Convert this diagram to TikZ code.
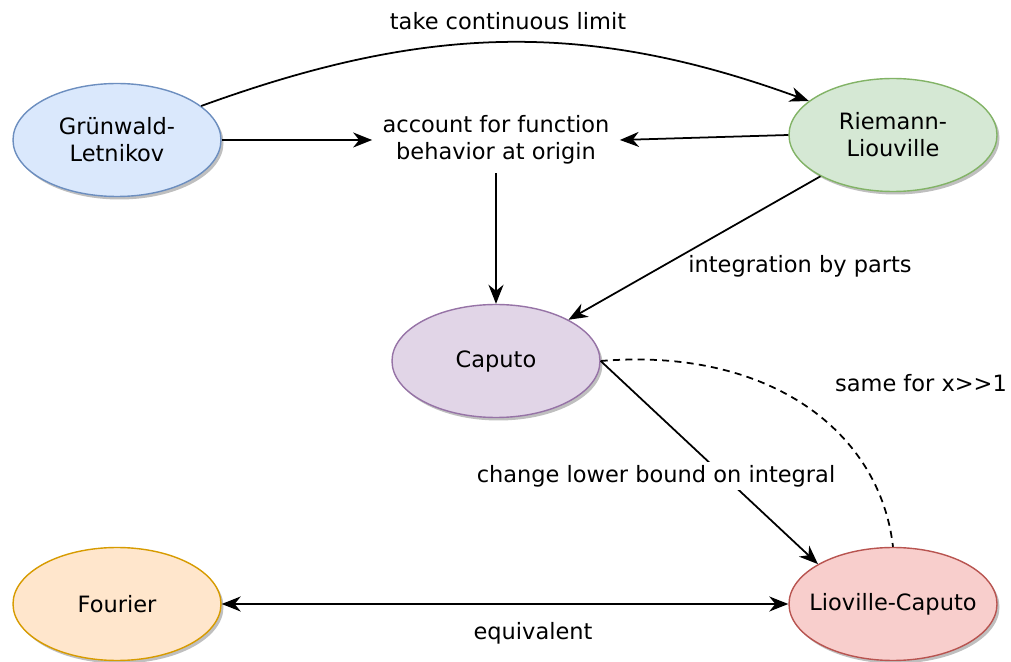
\documentclass[tikz,border=0pt]{standalone}
\usepackage{fontspec}
\setmainfont{DejaVu Sans}
\usetikzlibrary{
    arrows.meta,
    positioning,
    calc,
    shapes.geometric,
    shadows
}
\definecolor{glFill}{HTML}{DAE8FC}
\definecolor{glLine}{HTML}{6C8EBF}
\definecolor{rlFill}{HTML}{D5E8D4}
\definecolor{rlLine}{HTML}{82B366}
\definecolor{cpFill}{HTML}{E1D5E7}
\definecolor{cpLine}{HTML}{9673A6}
\definecolor{frFill}{HTML}{FFE6CC}
\definecolor{frLine}{HTML}{D79B00}
\definecolor{lcFill}{HTML}{F8CECC}
\definecolor{lcLine}{HTML}{B85450}
\tikzset{
    % --- Derivative definition (ellipse with shadow) ---
    defn/.style = {
        ellipse, draw, line width=0.8pt,
        minimum width=4.16cm, minimum height=2.26cm,
        align=center, inner sep=0pt,
        drop shadow={shadow xshift=0.05cm, shadow yshift=-0.06cm,
                     fill=black, opacity=0.25}
    },
    % --- Free text step between definitions ---
    step text/.style = {
        align=center, inner sep=0pt,
        minimum width=4.94cm, minimum height=1.32cm
    },
    % --- Edge label ---
    edge label/.style = {
        align=center, inner sep=2pt
    },
    % --- Edge label cutting a line ---
    cut label/.style = {
        edge label, fill=white
    },
    % --- Connection arrow ---
    link/.style = {
        -{Stealth[length=3.8mm, width=3mm, inset=1.2mm]}, line width=1pt
    },
    % --- Two-way connection ---
    both link/.style = {
        {Stealth[length=3.8mm, width=3mm, inset=1.2mm]}-{Stealth[length=3.8mm, width=3mm, inset=1.2mm]},
        line width=1pt
    },
    % --- Loose correspondence ---
    loose link/.style = {
        line width=1pt, dash pattern=on 4pt off 3pt
    }
}

\begin{document}
\begin{tikzpicture}[font=\fontsize{12.8}{15.4}\selectfont]

\useasboundingbox (0,0) rectangle (20.22,13.24);

% ---------------------------------------------------------
% Definitions
% ---------------------------------------------------------
\node[defn, fill=glFill, draw=glLine] (GL) at (2.34, 10.44) {Grünwald-\\Letnikov};
\node[defn, fill=rlFill, draw=rlLine] (RL) at (17.86, 10.54) {Riemann-\\Liouville};
\node[defn, fill=cpFill, draw=cpLine] (Cap) at (9.92, 6.02) {Caputo};
\node[defn, fill=frFill, draw=frLine] (Four) at (2.34, 1.16) {Fourier};
\node[defn, fill=lcFill, draw=lcLine] (LC) at (17.86, 1.16) {\makebox[0pt]{Lioville-Caputo}};

% Origin step
\node[step text] (Orig) at (9.92, 10.44) {account for function\\behavior at origin};

% ---------------------------------------------------------
% Connections
% ---------------------------------------------------------
\draw[link] (GL.22) to[out=20, in=160] (RL.158);
\node[edge label] (Lim) at (10.16, 12.82) {take continuous limit};

\draw[link] (GL.east) -- (Orig.west);
\draw[link] (RL.west) -- (Orig.east);
\draw[link] (Orig.south) -- (Cap.north);

\draw[link] (RL) -- (Cap);
\node[edge label] (Parts) at (16.00, 7.92) {integration by parts};

\draw[link] (Cap.east) -- (LC.152);
\node[cut label] (Bound) at (13.12, 3.72) {change lower bound on integral};

\draw[loose link] (Cap.east) .. controls (15.4, 6.3) and (17.6, 4.6) .. (LC.north);
\node[edge label] (Same) at (18.42, 5.58) {same for x>{}>1};

\draw[both link] (Four.east) -- (LC.west);
\node[edge label] (Equiv) at (10.66, 0.58) {equivalent};

\end{tikzpicture}
\end{document}
